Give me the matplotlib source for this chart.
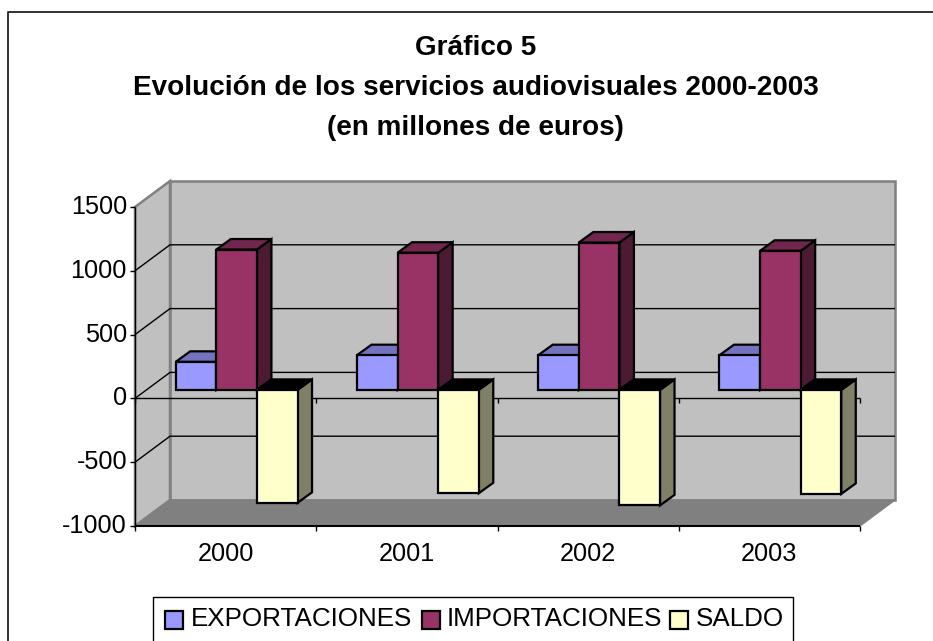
"""Gráfico 5: 3D-look clustered bars, drawn with polygons on a flat axes."""
import matplotlib

matplotlib.use("Agg")
import matplotlib.pyplot as plt
from matplotlib.patches import Polygon, Rectangle

plt.rcParams["font.family"] = ["Liberation Sans", "DejaVu Sans"]

years = ["2000", "2001", "2002", "2003"]
series = ["EXPORTACIONES", "IMPORTACIONES", "SALDO"]
exportaciones = [220, 272, 272, 272]
importaciones = [1100, 1075, 1155, 1090]
saldo = [-885, -810, -905, -815]
ticks = [-1000, -500, 0, 500, 1000, 1500]
titulo = "Gráfico 5\nEvolución de los servicios audiovisuales 2000-2003\n(en millones de euros)"

W, H = 933, 641
# front plane of the plot in pixels
L, R, T, B = 135, 860, 207, 526
PX_X = 4 / (R - L)
PX_Y = 2500 / (B - T)

# depth of the box, of the bars, and where the bars start in it
BOX_DX, BOX_DY = 35 * PX_X, 26 * PX_Y
BAR_DX, BAR_DY = 14.5 * PX_X, 10.5 * PX_Y
OFF_DX, OFF_DY = 11 * PX_X, 8.5 * PX_Y
BAR_W = 40.6 * PX_X

FACES = {
    "EXPORTACIONES": ("#9999FF", "#7373BF", "#4D4D80"),
    "IMPORTACIONES": ("#993366", "#73264D", "#4D1A33"),
    "SALDO": ("#FFFFCC", "#000000", "#808066"),
}

fig = plt.figure(figsize=(W / 100, H / 100), dpi=100, facecolor="white")
ax = fig.add_axes([L / W, 1 - B / H, (R - L) / W, (B - T) / H])
ax.set_xlim(0, 4)
ax.set_ylim(-1000, 1500)
ax.axis("off")


def poly(pts, fc="none", ec="black", lw=1.6, z=2):
    ax.add_patch(Polygon(pts, closed=True, fc=fc, ec=ec, lw=lw, zorder=z,
                         clip_on=False, joinstyle="miter"))


def line(xs, ys, color="black", lw=1.0, z=2):
    ax.plot(xs, ys, color=color, lw=lw, zorder=z, clip_on=False, solid_capstyle="butt")


# walls and floor
poly([(BOX_DX, -1000 + BOX_DY), (4 + BOX_DX, -1000 + BOX_DY), (4 + BOX_DX, 1500 + BOX_DY),
      (BOX_DX, 1500 + BOX_DY)], fc="#C0C0C0", ec="#808080", lw=1.8, z=1)
poly([(0, -1000), (BOX_DX, -1000 + BOX_DY), (BOX_DX, 1500 + BOX_DY), (0, 1500)],
     fc="#C0C0C0", ec="#808080", lw=1.8, z=1)
poly([(0, -1000), (4, -1000), (4 + BOX_DX, -1000 + BOX_DY), (BOX_DX, -1000 + BOX_DY)],
     fc="#808080", ec="#808080", lw=1.0, z=1.1)

# gridlines on back and side wall
for v in ticks[1:-1]:
    line([0, BOX_DX, 4 + BOX_DX], [v, v + BOX_DY, v + BOX_DY], lw=1.0, z=1.2)

# axes
line([0, 0], [-1000, 1500], lw=1.0, z=1.3)
line([0, 4], [-1000, -1000], lw=1.5, z=1.3)
line([0, 4], [0, 0], lw=1.0, z=1.3)
for v in ticks:
    line([-5 * PX_X, 0], [v, v], lw=1.0, z=1.3)
    ax.text(-8 * PX_X, v, str(v), ha="right", va="center", fontsize=18.2, clip_on=False)
for k in range(5):
    line([k, k], [-1000, -1000 - 5 * PX_Y], lw=1.0, z=1.3)
    line([k, k], [0, -5 * PX_Y], lw=1.0, z=1.3)
for k, y in enumerate(years):
    ax.text(k + 0.5, -1000 - 28 * PX_Y, y, ha="center", va="center", fontsize=18.2)

# bars, back-to-front left to right
gap = (1 - 3 * BAR_W) / 2
for s, (name, vals) in enumerate(zip(series, [exportaciones, importaciones, saldo])):
    front, top, side = FACES[name]
    for k, v in enumerate(vals):
        x0 = k + gap + s * BAR_W + OFF_DX
        x1 = x0 + BAR_W
        y0 = OFF_DY
        y1 = v + OFF_DY
        hi = max(y0, y1)
        z = 3 + k + s * 0.1
        poly([(x1, y0), (x1 + BAR_DX, y0 + BAR_DY), (x1 + BAR_DX, y1 + BAR_DY), (x1, y1)],
             fc=side, z=z)
        poly([(x0, hi), (x1, hi), (x1 + BAR_DX, hi + BAR_DY), (x0 + BAR_DX, hi + BAR_DY)],
             fc=top, z=z)
        poly([(x0, y0), (x1, y0), (x1, y1), (x0, y1)], fc=front, z=z + 0.01)

# figure-level frame and title, in figure pixels
bg = fig.add_axes([0, 0, 1, 1], zorder=-1)
bg.set_xlim(0, W)
bg.set_ylim(H, 0)
bg.axis("off")
bg.plot([8, 8, W], [H, 12, 12], color="#222222", lw=1.3)
bg.text(475.5, 88, titulo, ha="center", va="center", fontsize=20.1, fontweight="bold",
        linespacing=1.72)

# legend box runs off the bottom of the picture
bg.add_patch(Rectangle((153, 597), 640, 60, fc="white", ec="black", lw=1.0))
lx = [165, 422, 670]
tx = [191, 447, 696]
for x, t, name in zip(lx, tx, series):
    bg.add_patch(Rectangle((x, 610.5), 18, 18, fc=FACES[name][0], ec="black", lw=1.6))
    bg.text(t, 618.5, name, ha="left", va="center", fontsize=18.7)

fig.savefig("out.png", dpi=100)
